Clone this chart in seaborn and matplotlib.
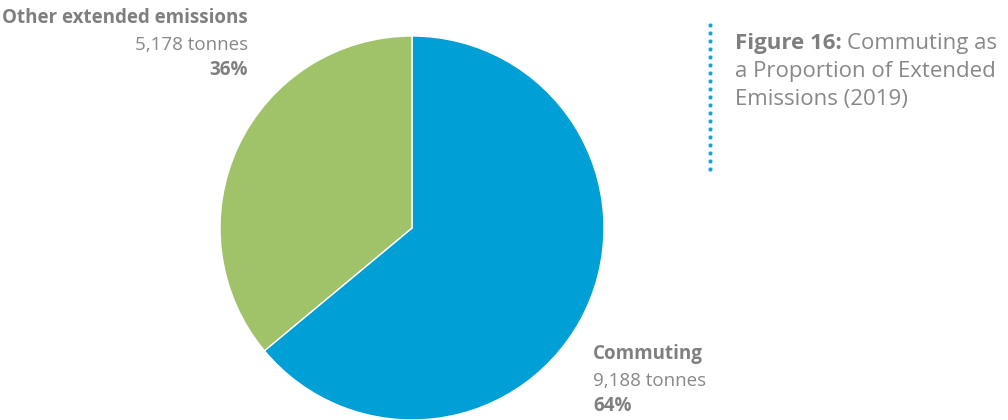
import matplotlib
matplotlib.use("Agg")
import matplotlib.pyplot as plt
import seaborn as sns
import numpy as np

sns.set_theme(style="white")
plt.rcParams['font.family'] = ['Open Sans', 'DejaVu Sans']

categories = ["Commuting", "Other extended emissions"]
tonnes = [9188, 5178]
tonne_labels = ["9,188 tonnes", "5,178 tonnes"]
pct_labels = ["64%", "36%"]
colors = ["#009FD6", "#A0C36A"]
title_bold = "Figure 16:"
title_rest = "Commuting as\na Proportion of Extended\nEmissions (2019)"

W, H = 1008, 420
fig = plt.figure(figsize=(W/100, H/100), dpi=100)
fig.patch.set_facecolor("white")

cx, cy, r = 412, 228, 192
ax = fig.add_axes([(cx - r)/W, (H - cy - r)/H, 2*r/W, 2*r/H])
ax.pie(tonnes, colors=colors, startangle=90, counterclock=False,
       wedgeprops=dict(edgecolor="white", linewidth=1))
ax.set_xlim(-1, 1)
ax.set_ylim(-1, 1)
ax.set_aspect("equal")
ax.axis("off")

gray = "#7f7f81"
lgray = "#88888a"
def fx(x): return x / W
def fy(y): return 1 - y / H

fs = 13.5
# Other extended emissions (right aligned)
fig.text(fx(248), fy(18), categories[1], ha="right", va="center",
         fontsize=fs, fontweight="bold", color=gray)
fig.text(fx(248), fy(45), tonne_labels[1], ha="right", va="center",
         fontsize=fs, color=lgray)
fig.text(fx(248), fy(70), pct_labels[1], ha="right", va="center",
         fontsize=fs, fontweight="bold", color=gray)

# Commuting (left aligned)
fig.text(fx(593), fy(354), categories[0], ha="left", va="center",
         fontsize=fs, fontweight="bold", color=gray)
fig.text(fx(593), fy(381), tonne_labels[0], ha="left", va="center",
         fontsize=fs, color=lgray)
fig.text(fx(593), fy(406), pct_labels[0], ha="left", va="center",
         fontsize=fs, fontweight="bold", color=gray)

# Dotted line
ys = np.arange(25, 175, 8)
fig.add_artist(plt.Line2D([fx(710)]*len(ys), [fy(y) for y in ys], linestyle="none",
                          marker="o", markersize=2, color="#1aa3dc", transform=fig.transFigure))

# Caption
cfs = 16
t1 = fig.text(fx(735), fy(43), title_bold, ha="left", va="center",
              fontsize=cfs, fontweight="bold", color=gray)
fig.canvas.draw()
bb = t1.get_window_extent()
x_after = bb.x1 / W + 5 / W
lines = title_rest.split("\n")
fig.text(x_after, fy(43), lines[0], ha="left", va="center", fontsize=cfs, color=lgray)
fig.text(fx(735), fy(71), lines[1], ha="left", va="center", fontsize=cfs, color=lgray)
fig.text(fx(735), fy(99), lines[2], ha="left", va="center", fontsize=cfs, color=lgray)

fig.savefig("out.png", dpi=100, facecolor="white")
